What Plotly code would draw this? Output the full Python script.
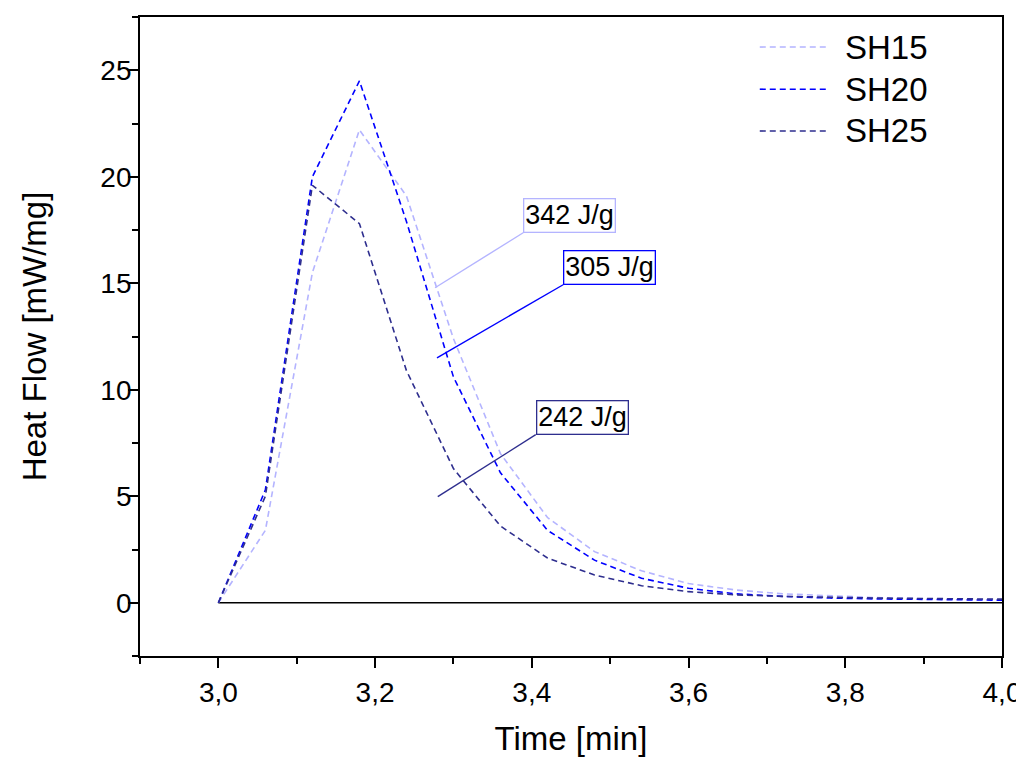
import plotly.graph_objects as go

time = [3.00, 3.06, 3.12, 3.18, 3.24, 3.30, 3.36, 3.42, 3.48, 3.54, 3.60,
        3.66, 3.72, 3.78, 3.84, 3.90, 3.96, 4.00]
sh15 = [0.0, 3.4, 15.5, 22.2, 19.1, 12.4, 7.0, 4.0, 2.4, 1.5, 0.9,
        0.6, 0.42, 0.32, 0.24, 0.19, 0.16, 0.14]
sh20 = [0.0, 5.3, 20.0, 24.5, 17.9, 10.6, 6.1, 3.4, 2.0, 1.15, 0.68,
        0.42, 0.3, 0.22, 0.18, 0.15, 0.13, 0.12]
sh25 = [0.0, 5.0, 19.6, 17.8, 10.9, 6.3, 3.6, 2.1, 1.3, 0.8, 0.52,
        0.37, 0.3, 0.25, 0.22, 0.2, 0.18, 0.17]
baseline_x = [3.0, 4.0]
baseline_y = [0.0, 0.0]

names = ["SH15", "SH20", "SH25"]
colors = ["#B4B4FF", "#0000FF", "#2E2E8E"]
series = [sh15, sh20, sh25]

enthalpy = ["342 J/g", "305 J/g", "242 J/g"]
# annotation leader lines (start x, start y, end x, end y) in data units
leaders = [(3.2765, 14.79, 3.389, 17.37),
           (3.279, 11.50, 3.440, 14.93),
           (3.280, 4.98, 3.405, 7.89)]

FONT = "Liberation Sans, Arial, sans-serif"
DASH = "6px,4px"

fig = go.Figure()
fig.add_trace(go.Scatter(x=baseline_x, y=baseline_y, mode="lines",
                         line=dict(color="black", width=1.3),
                         showlegend=False, hoverinfo="skip"))
for n, c, s in zip(names, colors, series):
    fig.add_trace(go.Scatter(x=time, y=s, mode="lines", name=n,
                             line=dict(color=c, width=1.6, dash=DASH),
                             showlegend=False))

shapes = []
annotations = []
for (x0, y0, x1, y1), c, t in zip(leaders, colors, enthalpy):
    shapes.append(dict(type="line", xref="x", yref="y", x0=x0, y0=y0, x1=x1, y1=y1,
                       line=dict(color=c, width=1.4)))
    annotations.append(dict(xref="x", yref="y", x=x1, y=y1, text=t,
                            xanchor="left", yanchor="bottom", showarrow=False,
                            font=dict(family=FONT, size=27, color="black"),
                            bgcolor="white", bordercolor=c, borderwidth=1.3,
                            borderpad=1))

# manual legend
leg_y = [0.953, 0.887, 0.8216]
for n, c, yy in zip(names, colors, leg_y):
    shapes.append(dict(type="line", xref="paper", yref="paper", x0=0.719, x1=0.800,
                       y0=yy, y1=yy, line=dict(color=c, width=1.6, dash=DASH)))
    annotations.append(dict(xref="paper", yref="paper", x=0.8155, y=yy, text=n,
                            xanchor="left", yanchor="middle", showarrow=False,
                            font=dict(family=FONT, size=33, color="black")))

axis_common = dict(showline=True, linecolor="black", linewidth=1.8, mirror=True,
                   ticks="outside", ticklen=10, tickwidth=1.8, tickcolor="black",
                   showgrid=False, zeroline=False, automargin=False,
                   tickfont=dict(family=FONT, size=28, color="black"))

fig.update_layout(
    width=1016, height=750,
    margin=dict(l=132, r=22, t=9, b=102),
    paper_bgcolor="white", plot_bgcolor="white",
    separators=",.",
    showlegend=False,
    shapes=shapes, annotations=annotations,
    xaxis=dict(range=[2.9, 4.0], tickvals=[3.0, 3.2, 3.4, 3.6, 3.8, 4.0],
               tickformat=".1f",
               minor=dict(tickvals=[2.9, 3.1, 3.3, 3.5, 3.7, 3.9], ticks="outside",
                          ticklen=6, tickwidth=1.8, tickcolor="black"),
               title=dict(text="Time [min]", font=dict(family=FONT, size=33, color="black"),
                          standoff=20),
               **axis_common),
    yaxis=dict(range=[-2.5, 27.5], tickvals=[0, 5, 10, 15, 20, 25],
               ticklabelstandoff=-9,
               minor=dict(tickvals=[-2.5, 2.5, 7.5, 12.5, 17.5, 22.5, 27.5], ticks="outside",
                          ticklen=6, tickwidth=1.8, tickcolor="black"),
               title=dict(text="Heat Flow [mW/mg]", font=dict(family=FONT, size=33, color="black"),
                          standoff=44),
               **axis_common),
)

fig.write_html("out.html")
